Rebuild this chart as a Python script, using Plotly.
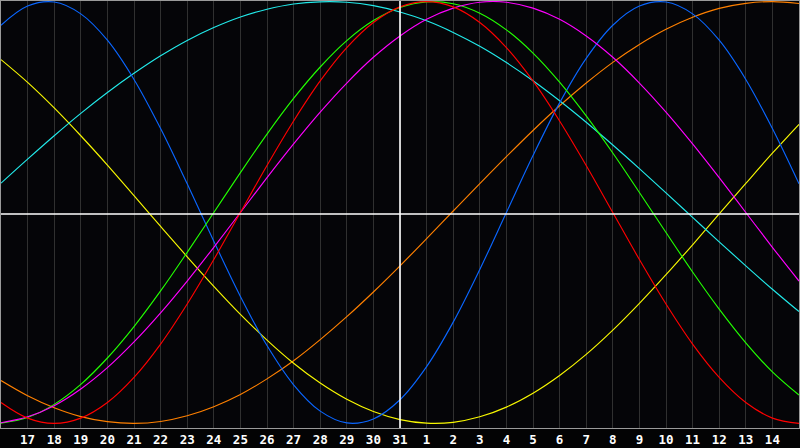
import plotly.graph_objects as go

# day positions (16 = the day before the first label, 46 = the day after the last)
days = list(range(16, 47))
tick_pos = list(range(17, 46))
tick_labels = ["17", "18", "19", "20", "21", "22", "23", "24", "25", "26", "27", "28", "29", "30", "31",
               "1", "2", "3", "4", "5", "6", "7", "8", "9", "10", "11", "12", "13", "14"]
today = 31

# values, one per day (16 .. 46)
blue = [0.888, 0.979, 0.998, 0.942, 0.817, 0.631, 0.398, 0.136, -0.136, -0.398, -0.631, -0.817,
        -0.942, -0.998, -0.979, -0.888, -0.731, -0.520, -0.270, 0.000, 0.270, 0.520, 0.731, 0.888,
        0.979, 0.998, 0.942, 0.817, 0.631, 0.398, 0.136]
red = [-0.901, -0.975, -1.000, -0.975, -0.901, -0.782, -0.624, -0.434, -0.223, 0.000, 0.223, 0.434,
       0.624, 0.782, 0.901, 0.975, 1.000, 0.975, 0.901, 0.782, 0.624, 0.434, 0.223, 0.000, -0.223,
       -0.434, -0.624, -0.782, -0.901, -0.975, -1.000]
green = [-0.999, -0.972, -0.910, -0.815, -0.690, -0.541, -0.372, -0.189, 0.000, 0.189, 0.372, 0.541,
         0.690, 0.815, 0.910, 0.972, 0.999, 0.990, 0.945, 0.866, 0.756, 0.618, 0.458, 0.282, 0.095,
         -0.095, -0.282, -0.458, -0.618, -0.756, -0.866]
magenta = [-0.997, -0.969, -0.916, -0.837, -0.736, -0.614, -0.476, -0.325, -0.165, 0.000, 0.165, 0.325,
           0.476, 0.614, 0.736, 0.837, 0.916, 0.969, 0.997, 0.997, 0.969, 0.916, 0.837, 0.736, 0.614,
           0.476, 0.325, 0.165, 0.000, -0.165, -0.325]
cyan = [0.139, 0.253, 0.364, 0.470, 0.569, 0.660, 0.743, 0.816, 0.877, 0.927, 0.964, 0.989,
        0.999, 0.997, 0.981, 0.951, 0.909, 0.854, 0.788, 0.711, 0.625, 0.530, 0.428, 0.320, 0.208,
        0.093, -0.023, -0.139, -0.253, -0.364, -0.470]
yellow = [0.725, 0.617, 0.496, 0.364, 0.225, 0.080, -0.066, -0.210, -0.350, -0.483, -0.605, -0.715,
          -0.809, -0.886, -0.944, -0.982, -0.999, -0.995, -0.969, -0.923, -0.857, -0.773, -0.673,
          -0.558, -0.431, -0.295, -0.153, -0.007, 0.138, 0.281, 0.418]
orange = [-0.797, -0.869, -0.926, -0.968, -0.992, -1.000, -0.991, -0.964, -0.921, -0.863, -0.789,
          -0.703, -0.603, -0.494, -0.377, -0.253, -0.124, 0.007, 0.137, 0.265, 0.389, 0.506, 0.614,
          0.712, 0.797, 0.869, 0.926, 0.968, 0.992, 1.000, 0.991]

series = [
    ("orange", orange, "#ff8000"),
    ("yellow", yellow, "#f8f800"),
    ("cyan", cyan, "#22eaea"),
    ("blue", blue, "#0a66ff"),
    ("green", green, "#22ff00"),
    ("magenta", magenta, "#ff00ff"),
    ("red", red, "#ff0000"),
]

fig = go.Figure()
for name, vals, col in series:
    fig.add_trace(go.Scatter(x=days, y=vals, mode="lines", name=name,
                             line=dict(color=col, width=1.15, shape="spline", smoothing=1.0),
                             hoverinfo="skip"))

# today marker and zero line
fig.add_shape(type="line", xref="x", yref="paper", x0=today, x1=today, y0=0, y1=1,
              line=dict(color="#ffffff", width=1.6), layer="above")
fig.add_shape(type="line", xref="paper", yref="y", x0=0, x1=1, y0=-0.007, y1=-0.007,
              line=dict(color="#ffffff", width=1.6), layer="above")

fig.update_layout(
    width=800, height=448,
    margin=dict(l=1, r=1, t=1, b=20, pad=0),
    paper_bgcolor="#030304", plot_bgcolor="#050508",
    showlegend=False, hovermode=False,
)
fig.update_xaxes(range=[16, 46], tickmode="array", tickvals=tick_pos, ticktext=tick_labels,
                 showgrid=True, gridcolor="#303030", gridwidth=1, zeroline=False,
                 showline=True, mirror=True, linecolor="#9a9a9a", linewidth=1,
                 ticks="", automargin=False,
                 tickfont=dict(family="DejaVu Sans Mono", size=12.5, color="#ffffff", weight="bold"))
fig.update_yaxes(range=[-1.022, 1.003], showgrid=False, zeroline=False, showticklabels=False,
                 showline=True, mirror=True, linecolor="#9a9a9a", linewidth=1,
                 ticks="", automargin=False)

fig.write_html("out.html", config={"displayModeBar": False},
               post_script="document.body.style.margin='0px';document.body.style.background='#030304';")
